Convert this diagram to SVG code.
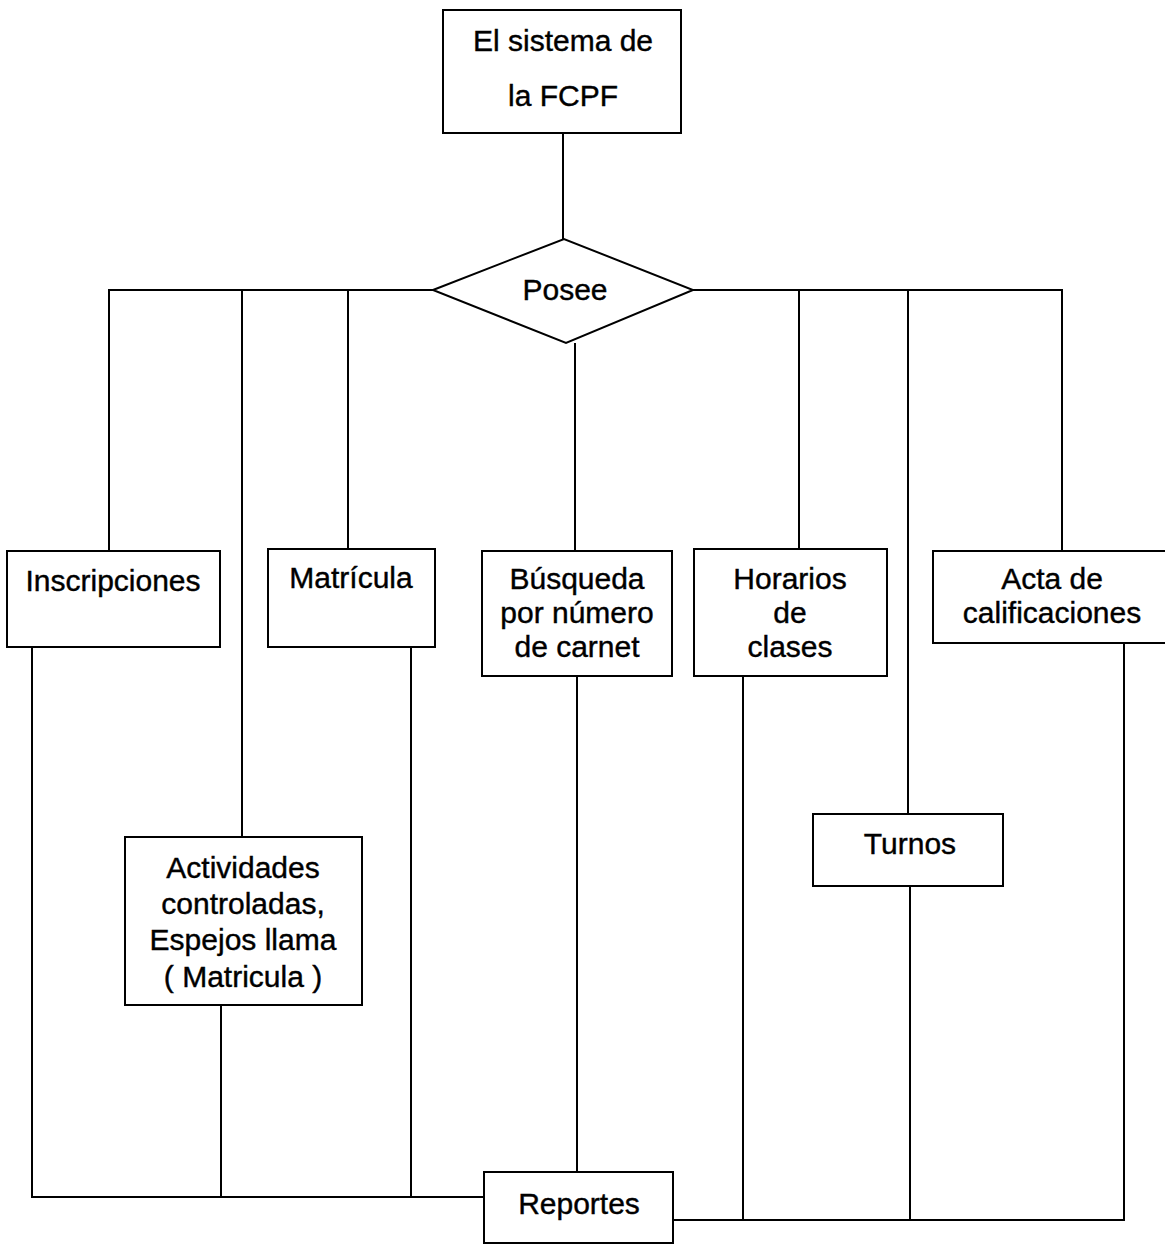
<svg xmlns="http://www.w3.org/2000/svg" width="1165" height="1245" viewBox="0 0 1165 1245">
<style>
.box{fill:#fff;stroke:#000;stroke-width:2}
.ln{fill:none;stroke:#000;stroke-width:2}
text{font-family:"Liberation Sans",Arial,sans-serif;font-size:30px;fill:#000;stroke:#000;stroke-width:0.4;text-anchor:middle}
</style>
<rect width="1165" height="1245" fill="#fff"/>
<g id="connectors">
<path class="ln" d="M563,133 V239"/>
<path class="ln" d="M433,290 H109 V551"/>
<path class="ln" d="M242,290 V837"/>
<path class="ln" d="M348,290 V549"/>
<path class="ln" d="M693,290 H1062 V551"/>
<path class="ln" d="M799,290 V549"/>
<path class="ln" d="M908,290 V814"/>
<path class="ln" d="M575,343 V551"/>
<path class="ln" d="M32,647 V1197 H484"/>
<path class="ln" d="M221,1005 V1197"/>
<path class="ln" d="M411,647 V1197"/>
<path class="ln" d="M577,676 V1172"/>
<path class="ln" d="M673,1220 H1124 V643"/>
<path class="ln" d="M743,676 V1220"/>
<path class="ln" d="M910,886 V1220"/>
</g>
<g id="n-sistema"><rect class="box" x="443" y="10" width="238" height="123"/><text x="563" y="51">El sistema de</text><text x="563" y="106">la FCPF</text></g>
<g id="n-posee"><polygon class="box" points="433,290 564,239 693,290 566,343"/><text x="565" y="300">Posee</text></g>
<g id="n-inscripciones"><rect class="box" x="7" y="551" width="213" height="96"/><text x="113" y="591">Inscripciones</text></g>
<g id="n-matricula"><rect class="box" x="268" y="549" width="167" height="98"/><text x="351" y="588">Matrícula</text></g>
<g id="n-busqueda"><rect class="box" x="482" y="551" width="190" height="125"/><text x="577" y="589">Búsqueda</text><text x="577" y="623">por número</text><text x="577" y="657">de carnet</text></g>
<g id="n-horarios"><rect class="box" x="694" y="549" width="193" height="127"/><text x="790" y="589">Horarios</text><text x="790" y="623">de</text><text x="790" y="657">clases</text></g>
<g id="n-acta"><rect class="box" x="933" y="551" width="240" height="92"/><text x="1052" y="589">Acta de</text><text x="1052" y="623">calificaciones</text></g>
<g id="n-actividades"><rect class="box" x="125" y="837" width="237" height="168"/><text x="243" y="878">Actividades</text><text x="243" y="914">controladas,</text><text x="243" y="950">Espejos llama</text><text x="243" y="987">( Matricula )</text></g>
<g id="n-turnos"><rect class="box" x="813" y="814" width="190" height="72"/><text x="910" y="854">Turnos</text></g>
<g id="n-reportes"><rect class="box" x="484" y="1172" width="189" height="71"/><text x="579" y="1214">Reportes</text></g>
</svg>
